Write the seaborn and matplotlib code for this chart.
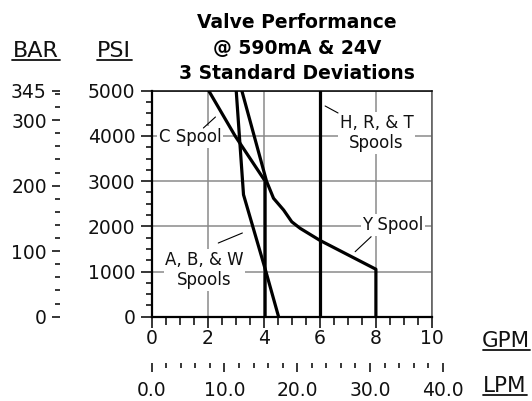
import matplotlib
matplotlib.use("Agg")
import matplotlib.pyplot as plt
import seaborn as sns
import pandas as pd
from matplotlib.ticker import MultipleLocator, FormatStrFormatter
from matplotlib.lines import Line2D

# ---------------- data ----------------
title_lines = ["Valve Performance", "@ 590mA & 24V", "3 Standard Deviations"]
gpm_ticks = [0, 2, 4, 6, 8, 10]
psi_ticks = [0, 1000, 2000, 3000, 4000, 5000]
bar_ticks = [0, 100, 200, 300, 345]
lpm_ticks = [0, 10, 20, 30, 40]

c_gpm = [2.04, 2.98, 4.05, 4.05]
c_psi = [5000, 4000, 3000, 0]
y_gpm = [3.22, 4.10, 4.35, 4.71, 5.00, 5.30, 6.00, 8.00, 8.00]
y_psi = [5000, 3000, 2620, 2360, 2100, 1955, 1690, 1050, 0]
abw_gpm = [3.02, 3.28, 4.06, 4.53]
abw_psi = [5000, 2700, 1040, 0]
hrt_gpm = [6.0, 6.0]
hrt_psi = [5000, 0]

labels = ["C Spool", "H, R, & T\nSpools", "Y Spool", "A, B, & W\nSpools"]
label_x = [1.37, 8.02, 8.61, 1.89]
label_y = [3976, 4064, 2027, 1033]
leader_x = [(1.85, 2.28), (6.19, 6.65), (7.26, 7.83), (2.38, 3.24)]
leader_y = [(4175, 4418), (4662, 4507), (1438, 1770), (1630, 1852)]

# ---------------- figure ----------------
sns.set_style("ticks")
plt.rcParams["font.family"] = ["DejaVu Sans"]

W, H = 532, 401
fig = plt.figure(figsize=(W / 100, H / 100), dpi=100)

def fx(px):
    return px / W

def fy(py):
    return 1 - py / H

ax = fig.add_axes([fx(151.5), fy(316.7), (432 - 151.5) / W, (316.7 - 90.7) / H])

frames = []
for name, gx, gy in [("C", c_gpm, c_psi), ("Y", y_gpm, y_psi),
                     ("ABW", abw_gpm, abw_psi), ("HRT", hrt_gpm, hrt_psi)]:
    frames.append(pd.DataFrame({"gpm": gx, "psi": gy, "spool": name}))
df = pd.concat(frames, ignore_index=True)

sns.lineplot(data=df, x="gpm", y="psi", units="spool", estimator=None,
             sort=False, color="black", lw=2.3, ax=ax, zorder=5,
             legend=False)

ax.set_xlim(0, 10)
ax.set_ylim(0, 5000)
ax.set_xlabel("")
ax.set_ylabel("")
ax.set_xticks(gpm_ticks)
ax.set_yticks(psi_ticks)
ax.xaxis.set_minor_locator(MultipleLocator(0.5))
ax.yaxis.set_minor_locator(MultipleLocator(250))
ax.grid(which="major", color="#8a8a8a", lw=1.1, zorder=0)
ax.set_axisbelow(True)
ax.tick_params(which="both", bottom=True, left=True, top=False, right=False)
ax.tick_params(which="major", direction="out", length=8, width=1.1,
               labelsize=13.5, color="black", labelcolor="#111111")
ax.tick_params(axis="x", which="major", pad=0.5)
ax.tick_params(axis="y", which="major", pad=3.5)
ax.tick_params(axis="x", which="minor", direction="out", length=5.5, width=1.1,
               color="black")
ax.tick_params(axis="y", which="minor", direction="out", length=4.5, width=1.1,
               color="black")
for s in ["left", "bottom"]:
    ax.spines[s].set_color("black")
    ax.spines[s].set_linewidth(1.6)
ax.spines["top"].set_visible(True)
ax.spines["right"].set_visible(True)
ax.spines["top"].set_color("black")
ax.spines["top"].set_linewidth(1.1)
ax.spines["right"].set_color("#555555")
ax.spines["right"].set_linewidth(1.1)

for t, x, y in zip(labels, label_x, label_y):
    ax.text(x, y, t, ha="center", va="center", multialignment="center",
            fontsize=12, color="#111111", zorder=3,
            bbox=dict(boxstyle="square,pad=0.1", fc="white", ec="none"))
for lx, ly in zip(leader_x, leader_y):
    ax.plot(lx, ly, color="black", lw=0.8, zorder=4)

# ---------------- BAR axis ----------------
bax = fig.add_axes([fx(60), fy(316.7), 0.0005, (316.7 - 90.7) / H])
bax.set_ylim(0, 345)
bax.set_yticks(bar_ticks)
bax.yaxis.set_minor_locator(MultipleLocator(20))
bax.xaxis.set_visible(False)
for s in bax.spines.values():
    s.set_visible(False)
bax.patch.set_visible(False)
bax.tick_params(axis="y", which="both", left=True, right=False)
bax.tick_params(axis="y", which="major", direction="out", length=6, width=1.1,
                labelsize=13.5, pad=3.5, labelcolor="#111111", color="black")
bax.tick_params(axis="y", which="minor", direction="out", length=3.6, width=1.1,
                color="black")

# ---------------- LPM axis ----------------
lax = fig.add_axes([fx(151.7), fy(363.3), (442.7 - 151.7) / W, 0.0005])
lax.set_xlim(0, 40)
lax.set_xticks(lpm_ticks)
lax.xaxis.set_major_formatter(FormatStrFormatter("%.1f"))
lax.xaxis.set_minor_locator(MultipleLocator(2))
lax.yaxis.set_visible(False)
for s in lax.spines.values():
    s.set_visible(False)
lax.patch.set_visible(False)
lax.tick_params(axis="x", which="both", bottom=True, top=False)
lax.tick_params(axis="x", which="major", direction="out", length=6.5, width=1.1,
                labelsize=13.5, pad=6.5, labelcolor="#111111", color="black")
lax.tick_params(axis="x", which="minor", direction="out", length=3.6, width=1.1,
                color="black")

# ---------------- title ----------------
for line, base in zip(title_lines, [28.5, 54, 79]):
    fig.text(fx(297), fy(base), line, ha="center", va="baseline",
             fontsize=13.5, fontweight="bold", color="black")

# ---------------- unit labels (underlined) ----------------
units = [("BAR", 36, 57.3, 16, 11.7, 60), ("PSI", 114.2, 57.3, 16, 96.7, 131.7),
         ("GPM", 506.3, 346.8, 15.5, 482.7, 530), ("LPM", 505, 392.3, 15.5, 483, 527)]
for txt, cx, base, fs, x0, x1 in units:
    fig.text(fx(cx), fy(base), txt, ha="center", va="baseline",
             fontsize=fs, color="#111111")
    fig.add_artist(Line2D([fx(x0), fx(x1)], [fy(base + 3), fy(base + 3)],
                          transform=fig.transFigure, color="#111111", lw=1.3))

fig.savefig("out.png", dpi=100)
